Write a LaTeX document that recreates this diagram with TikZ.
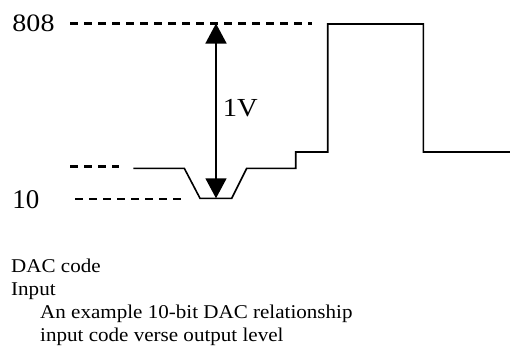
\documentclass[tikz,border=0pt]{standalone}
\usepackage{fontspec}
\usepackage{graphicx}
\setmainfont{Liberation Serif}
\usetikzlibrary{arrows.meta}
\begin{document}
\begin{tikzpicture}[x=1pt,y=-1pt,
  lbl/.style={inner sep=0pt, anchor=base west},
  bigfont/.style={font=\fontsize{25}{30}\selectfont},
  txtfont/.style={font=\fontsize{19.5}{23}\selectfont},
  dashln/.style={line width=2.6pt, dash pattern=on 8pt off 6pt},
  sig/.style={line width=1.6pt, line join=miter},
  dimln/.style={line width=1.5pt, {Triangle[width=21pt,length=20pt]}-{Triangle[width=21pt,length=20pt]}}]
\useasboundingbox (0,0) rectangle (510,349);
% level labels
\node[lbl,bigfont] (v808) at (12.3,31) {\scalebox{1.12}[1]{808}};
\node[lbl,font=\fontsize{27}{32}\selectfont] (v10) at (12.3,208.3) {10};
\node[lbl,font=\fontsize{26}{32}\selectfont] (v1v) at (222.7,116.5) {\scalebox{1.1}[1]{1V}};
% dashed reference lines
\coordinate (ta) at (70,23.5);
\coordinate (tb) at (311.7,23.5);
\coordinate (ma) at (70,166.7);
\coordinate (mb) at (119,166.7);
\coordinate (la) at (75,199);
\coordinate (lb) at (183.3,199);
\draw[dashln] (ta) -- (tb);
\draw[dashln] (ma) -- (mb);
\draw[dashln] (la) -- (lb);
% 1V dimension arrow
\coordinate (atop) at (216,23.5);
\coordinate (abot) at (216,198.3);
\draw[dimln] (atop) -- (abot);
% signal
\coordinate (s0) at (133.3,168.3);
\coordinate (s1) at (184.3,168.3);
\coordinate (s2) at (200,198.3);
\coordinate (s3) at (231.7,198.3);
\coordinate (s4) at (246.7,168.3);
\coordinate (s5) at (295.7,168.3);
\coordinate (s6) at (295.7,152);
\coordinate (s7) at (327.7,152);
\coordinate (s8) at (327.7,24);
\coordinate (s9) at (423.3,24);
\coordinate (s10) at (423.3,152);
\coordinate (s11) at (510,152);
\draw[sig] (s0) -- (s1) -- (s2) -- (s3) -- (s4) -- (s5) -- (s6) -- (s7) -- (s8) -- (s9) -- (s10) -- (s11);
% captions
\node[lbl,txtfont] (t1) at (11,272.7) {\scalebox{1.08}[1]{DAC code}};
\node[lbl,txtfont] (t2) at (11,295.7) {\scalebox{1.08}[1]{Input}};
\node[lbl,txtfont] (t3) at (40,318.3) {\scalebox{1.08}[1]{An example 10-bit DAC relationship}};
\node[lbl,txtfont] (t4) at (40,341) {\scalebox{1.08}[1]{input code verse output level}};
\end{tikzpicture}
\end{document}
